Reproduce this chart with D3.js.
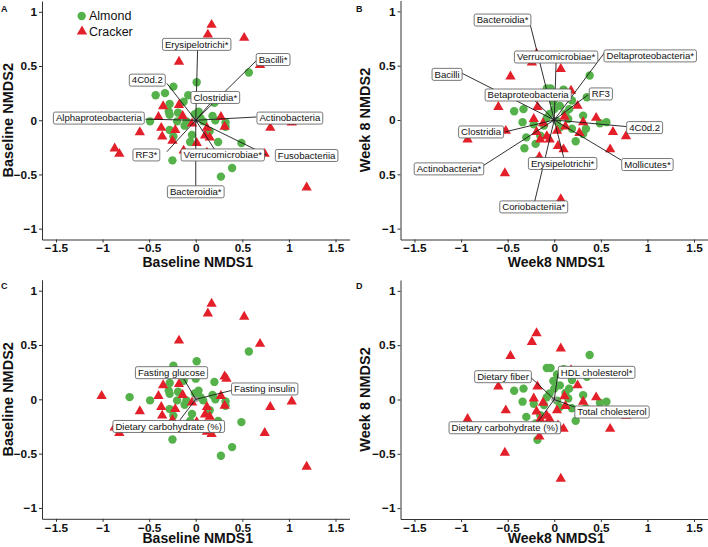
<!DOCTYPE html>
<html><head><meta charset="utf-8">
<script src="https://cdn.jsdelivr.net/npm/d3@7"></script>
<style>
body{margin:0;background:#fff;}
svg{display:block;font-family:"Liberation Sans",Arial,Helvetica,sans-serif;}
</style>
</head><body>
<svg id="chart" width="708" height="547"></svg>
<script>
// ---------- data ----------
const groups = ["Almond", "Cracker"];
const xTicks = [-1.5, -1, -0.5, 0, 0.5, 1, 1.5];
const xTickLabels = ["−1.5", "−1", "−0.5", "0", "0.5", "1", "1.5"];
const yTicks = [-1, -0.5, 0, 0.5, 1];
const yTickLabels = ["−1", "−0.5", "0", "0.5", "1"];
const yTickLabelsB = ["−1", "0.5", "0", "0.5", "1"];

const baselineAlmond = [[0.57,0.44],[0.01,0.35],[-0.24,0.31],[-0.43,0.23],[-0.33,0.25],[-0.13,0.17],[0.0,0.19],[0.20,0.16],[-0.28,0.15],[-0.29,0.08],[-0.28,0.05],[-0.19,0.07],[-0.71,0.02],[-0.49,-0.01],[-0.20,-0.01],[-0.10,-0.01],[-0.01,0.055],[0.05,0.02],[0.08,-0.01],[0.18,0.04],[0.21,0.0],[0.32,-0.02],[0.32,-0.06],[-0.28,-0.09],[-0.12,-0.05],[0.15,-0.10],[-0.04,-0.135],[-0.06,-0.20],[0.24,-0.20],[0.49,-0.21],[0.39,-0.44],[0.27,-0.52],[-0.25,-0.37],[-0.24,-0.15],[-0.08,0.23],[0.03,0.08]];
const baselineCracker = [[0.17,0.88],[0.13,0.79],[0.52,0.76],[-0.18,0.54],[0.69,0.51],[-1.01,0.03],[-0.35,0.13],[-0.18,0.14],[0.31,0.21],[0.33,0.19],[-0.40,0.03],[-0.14,0.04],[0.27,0.03],[-0.04,-0.03],[-0.60,-0.11],[-0.37,-0.07],[-0.36,-0.15],[-0.22,-0.09],[0.12,-0.07],[0.31,-0.06],[0.80,-0.07],[1.03,-0.02],[0.10,-0.14],[0.15,-0.16],[0.01,-0.21],[-0.25,-0.19],[-0.87,-0.26],[-0.82,-0.31],[-0.13,-0.28],[0.12,-0.30],[0.17,-0.32],[0.74,-0.31],[1.19,-0.62]];
const week8Almond = [[0.38,0.41],[-0.08,0.29],[-0.04,0.29],[0.10,0.28],[0.35,0.21],[-0.43,0.08],[-0.33,0.10],[-0.34,-0.02],[-0.22,-0.04],[-0.30,-0.16],[-0.32,-0.26],[-0.18,-0.37],[-0.01,0.17],[0.06,0.13],[0.19,0.18],[0.16,0.10],[0.03,0.23],[-0.05,0.055],[-0.08,0.02],[0.03,-0.01],[0.06,-0.07],[0.15,0.01],[0.31,0.04],[0.34,-0.08],[0.49,-0.03],[0.56,-0.02],[0.23,-0.195],[0.31,-0.13],[-0.15,-0.145],[-0.11,-0.05],[0.19,-0.08],[0.0,0.10],[0.12,0.06],[-0.20,-0.22]];
const week8Cracker = [[0.07,-0.73],[-0.53,-0.49],[-0.93,-0.18],[-0.52,-0.10],[-0.60,0.12],[-0.47,0.40],[-0.19,0.61],[-0.24,0.53],[0.07,0.47],[-0.18,0.12],[-0.22,0.01],[-0.12,-0.03],[-0.19,-0.11],[-0.15,-0.18],[-0.05,-0.18],[0.04,-0.24],[0.10,-0.27],[-0.16,-0.34],[0.11,0.03],[0.12,-0.06],[0.18,0.27],[0.25,0.13],[0.31,-0.02],[0.27,-0.12],[0.45,0.02],[0.63,-0.11],[0.77,-0.15],[0.60,-0.27],[-0.08,-0.15],[0.03,-0.10]];

// vectors: [label, arrow end x, arrow end y, label x, label y]
const vectorsA = [["Erysipelotrichi*",0.02,0.66,0.01,0.70],["Bacilli*",0.65,0.55,0.83,0.56],["4C0d.2",-0.31,0.34,-0.52,0.37],["Clostridia*",0.15,0.15,0.21,0.21],["Alphaproteobacteria",-0.54,0.01,-1.04,0.02],["Actinobacteria",0.65,0.03,1.01,0.02],["RF3*",-0.31,-0.29,-0.53,-0.32],["Verrucomicrobiae*",0.21,-0.28,0.29,-0.32],["Fusobacteriia",0.76,-0.32,1.19,-0.325],["Bacteroidia*",0.0,-0.62,0.0,-0.66]];
const vectorsB = [["Bacteroidia*",-0.27,0.92,-0.555,0.92],["Verrucomicrobiae*",0.02,0.54,0.02,0.58],["Deltaproteobacteria*",0.54,0.62,1.03,0.59],["Bacilli",-0.99,0.43,-1.15,0.42],["Betaproteobacteria",-0.21,0.18,-0.28,0.23],["RF3",0.36,0.23,0.50,0.24],["Clostridia",-0.53,-0.11,-0.785,-0.11],["4C0d.2",0.77,-0.06,0.97,-0.07],["Actinobacteria*",-0.78,-0.43,-1.13,-0.45],["Erysipelotrichi*",0.10,-0.34,0.09,-0.40],["Mollicutes*",0.72,-0.37,1.0,-0.41],["Coriobacteriia*",-0.21,-0.75,-0.22,-0.80]];
const vectorsC = [["Fasting glucose",-0.13,0.19,-0.26,0.245],["Fasting insulin",0.40,0.085,0.74,0.095],["Dietary carbohydrate (%)",-0.17,-0.19,-0.29,-0.25]];
const vectorsD = [["Dietary fiber",-0.26,0.21,-0.55,0.21],["HDL cholesterol*",0.04,0.24,0.455,0.25],["Total cholesterol",0.22,-0.07,0.62,-0.115],["Dietary carbohydrate (%)",-0.18,-0.21,-0.53,-0.26]];

// ---------- drawing ----------
const colors = {Almond: "#55b24b", Cracker: "#e3202a"};
const svg = d3.select("#chart");

const panels = [
  {letter:"A", almond:baselineAlmond, cracker:baselineCracker, vec:vectorsA, xr:[42,349.5], yr:[239.5,1], xTitle:"Baseline NMDS1", yTitle:"Baseline NMDS2", yLab:yTickLabels, legend:true, lx:1, ly:12, ytx:13, tOff:27},
  {letter:"B", almond:week8Almond, cracker:week8Cracker, vec:vectorsB, xr:[400.5,708], yr:[239.5,0.5], xTitle:"Week8 NMDS1", yTitle:"Week 8 NMDS2", yLab:yTickLabelsB, legend:false, lx:356, ly:12, ytx:370, tOff:27},
  {letter:"C", almond:baselineAlmond, cracker:baselineCracker, vec:vectorsC, xr:[42,349.5], yr:[518.8,279.8], xTitle:"Baseline NMDS1", yTitle:"Baseline NMDS2", yLab:yTickLabels, legend:false, lx:1, ly:289, ytx:13, tOff:24.5},
  {letter:"D", almond:week8Almond, cracker:week8Cracker, vec:vectorsD, xr:[400.5,708], yr:[519,280], xTitle:"Week8 NMDS1", yTitle:"Week 8 NMDS2", yLab:yTickLabels, legend:false, lx:356, ly:289, ytx:370, tOff:24.3}
];

const tri = d3.symbol(d3.symbolTriangle, 46);

panels.forEach(p => {
  const x = d3.scaleLinear().domain([-1.65, 1.65]).range(p.xr);
  const y = d3.scaleLinear().domain([-1.1, 1.1]).range(p.yr);
  const g = svg.append("g");

  // axes
  const ax = g.append("g").attr("transform", `translate(0,${p.yr[0]})`)
    .call(d3.axisBottom(x).tickValues(xTicks).tickFormat((d,i) => xTickLabels[i]).tickSize(3).tickPadding(1.5).tickSizeOuter(0));
  const ay = g.append("g").attr("transform", `translate(${p.xr[0]},0)`)
    .call(d3.axisLeft(y).tickValues(yTicks).tickFormat((d,i) => p.yLab[i]).tickSize(3).tickPadding(2).tickSizeOuter(0));
  [ax, ay].forEach(a => {
    a.attr("font-family", null).attr("font-size", null);
    a.select(".domain").attr("stroke", "#333").attr("stroke-width", 1);
    a.selectAll(".tick line").attr("stroke", "#333");
    a.selectAll(".tick text").attr("fill", "#111").style("font-size", "11.8px").style("font-weight", "bold");
  });

  // axis titles
  g.append("text").attr("x", (p.xr[0] + p.xr[1]) / 2 + 2).attr("y", p.yr[0] + p.tOff)
    .attr("text-anchor", "middle").style("font-size", "14px").style("font-weight", "bold").attr("fill", "#111").text(p.xTitle);
  const yc = (p.yr[0] + p.yr[1]) / 2;
  g.append("text").attr("transform", `translate(${p.ytx},${yc}) rotate(-90)`)
    .attr("text-anchor", "middle").style("font-size", "14.5px").style("font-weight", "bold").attr("fill", "#111").text(p.yTitle);

  // panel letter
  g.append("text").attr("x", p.lx).attr("y", p.ly).style("font-size", "9px").style("font-weight", "bold").attr("fill", "#111").text(p.letter);

  // points
  g.append("g").selectAll("circle").data(p.almond).join("circle")
    .attr("cx", d => x(d[0])).attr("cy", d => y(d[1])).attr("r", 4.2).attr("fill", colors.Almond);
  g.append("g").selectAll("path").data(p.cracker).join("path")
    .attr("d", tri).attr("transform", d => `translate(${x(d[0])},${y(d[1])})`).attr("fill", colors.Cracker);

  // origin marker
  g.append("circle").attr("cx", x(0)).attr("cy", y(0)).attr("r", 3).attr("fill", "#9a9a9a").attr("opacity", 0.85);

  // vector segments
  g.append("g").selectAll("line").data(p.vec).join("line")
    .attr("x1", x(0)).attr("y1", y(0)).attr("x2", d => x(d[1])).attr("y2", d => y(d[2]))
    .attr("stroke", "#1a1a1a").attr("stroke-width", 0.9);

  // labels
  const lg = g.append("g");
  p.vec.forEach(v => {
    const cx = x(v[3]), cy = y(v[4]);
    const lab = lg.append("g");
    const rect = lab.append("rect");
    const t = lab.append("text").attr("x", cx).attr("y", cy).attr("dy", "0.35em")
      .attr("text-anchor", "middle").style("font-size", "9.6px").attr("fill", "#111").text(v[0]);
    const w = t.node().getComputedTextLength();
    rect.attr("x", cx - w / 2 - 2.5).attr("y", cy - 6).attr("width", w + 5).attr("height", 12)
      .attr("rx", 1.8).attr("fill", "#fff").attr("stroke", "#555").attr("stroke-width", 0.8);
  });

  // legend
  if (p.legend) {
    const L = g.append("g");
    L.append("circle").attr("cx", 81.7).attr("cy", 16).attr("r", 4.2).attr("fill", colors.Almond);
    L.append("path").attr("d", tri).attr("transform", "translate(82,31.5)").attr("fill", colors.Cracker);
    L.append("text").attr("x", 89).attr("y", 16).attr("dy", "0.35em").style("font-size", "12.5px").attr("fill", "#111").text(groups[0]);
    L.append("text").attr("x", 89).attr("y", 31.5).attr("dy", "0.35em").style("font-size", "12.5px").attr("fill", "#111").text(groups[1]);
  }
});
</script>
</body></html>
